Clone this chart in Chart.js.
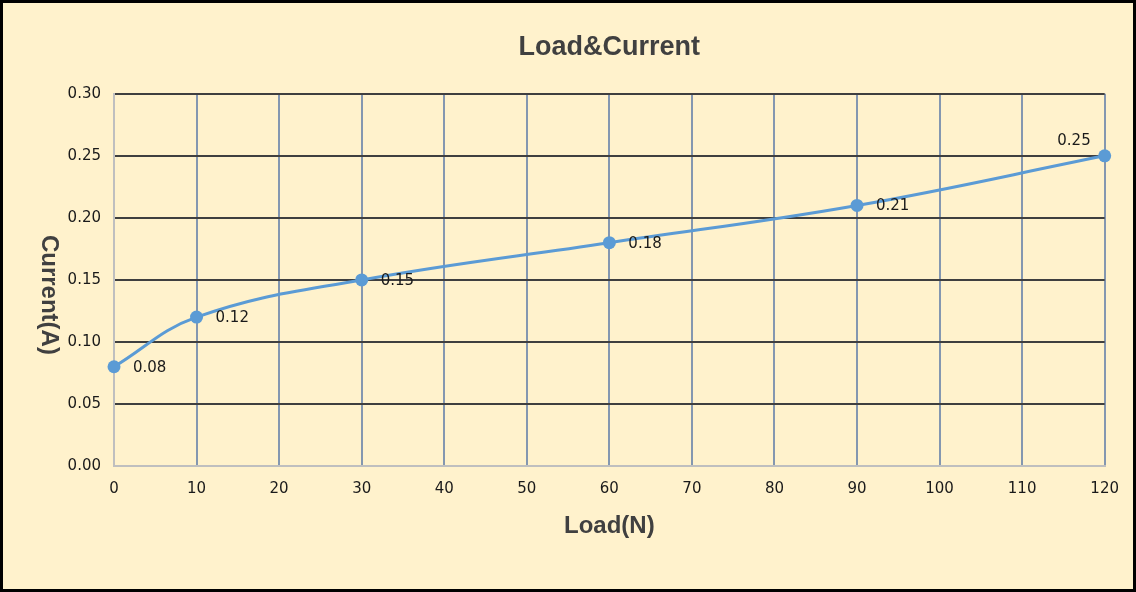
<!DOCTYPE html>
<html>
<head>
<meta charset="utf-8">
<script src="https://cdn.jsdelivr.net/npm/chart.js@4.4.1/dist/chart.umd.min.js"></script>
<style>
  body { margin: 0; background: #fff; }
  .frame {
    width: 1136px; height: 592px; box-sizing: border-box;
    border: 3px solid #000; background: #FFF2CC;
  }
  canvas { display: block; }
</style>
</head>
<body>
<div class="frame"><canvas id="chart" width="1130" height="586"></canvas></div>
<script>
  // data
  var loads = [0, 10, 30, 60, 90, 120];
  var currents = [0.08, 0.12, 0.15, 0.18, 0.21, 0.25];
  var chartTitle = "Load&Current";
  var xTitle = "Load(N)";
  var yTitle = "Current(A)";

  var tickFont = { family: "DejaVu Sans", size: 15 };
  var titleFont = { family: "Liberation Sans", size: 27, weight: "bold" };
  var axisFont = { family: "Liberation Sans", size: 24, weight: "bold" };

  // labels next to each point
  var pointLabels = {
    id: "pointLabels",
    afterDatasetsDraw: function (chart) {
      var ctx = chart.ctx;
      var meta = chart.getDatasetMeta(0);
      ctx.save();
      ctx.font = "15px 'DejaVu Sans'";
      ctx.fillStyle = "#1a1a1a";
      ctx.textBaseline = "middle";
      meta.data.forEach(function (pt, i) {
        var txt = currents[i].toFixed(2);
        if (i === meta.data.length - 1) {
          ctx.textAlign = "right";
          ctx.fillText(txt, pt.x - 14, pt.y - 15);
        } else {
          ctx.textAlign = "left";
          ctx.fillText(txt, pt.x + 19, pt.y + 1);
        }
      });
      ctx.restore();
    }
  };

  // vertical title, reads top to bottom
  var sideTitle = {
    id: "sideTitle",
    afterDraw: function (chart) {
      var ctx = chart.ctx;
      var area = chart.chartArea;
      ctx.save();
      ctx.translate(46, (area.top + area.bottom) / 2 + 15);
      ctx.rotate(Math.PI / 2);
      ctx.font = "bold 24px 'Liberation Sans'";
      ctx.fillStyle = "#404040";
      ctx.textAlign = "center";
      ctx.textBaseline = "middle";
      ctx.fillText(yTitle, 0, 0);
      ctx.restore();
    }
  };

  var ctx1 = document.getElementById("chart").getContext("2d");
  var myChart = new Chart(ctx1, {
    type: "line",
    data: {
      datasets: [
        {
          data: loads.map(function (x, i) { return { x: x, y: currents[i] }; }),
          borderColor: "#5B9BD5",
          backgroundColor: "#5B9BD5",
          borderWidth: 3,
          pointRadius: 6.5,
          pointBorderWidth: 0,
          tension: 0.4,
          clip: false,
        },
      ],
    },
    options: {
      responsive: false,
      animation: false,
      devicePixelRatio: 1,
      layout: { padding: { left: 0, right: 26, top: 0, bottom: 0 } },
      plugins: {
        legend: { display: false },
        tooltip: { enabled: false },
        title: {
          display: true,
          text: chartTitle,
          fullSize: false,
          color: "#404040",
          font: titleFont,
          padding: { top: 28, bottom: 30.4 },
        },
      },
      scales: {
        x: {
          type: "linear",
          min: 0,
          max: 120,
          ticks: { stepSize: 10, padding: 14, color: "#1a1a1a", font: tickFont, maxRotation: 0 },
          grid: {
            drawTicks: false,
            lineWidth: 2,
            color: function (c) { return c.tick && c.tick.value === 0 ? "#BFBFBF" : "#8497B0"; },
          },
          border: { display: true, color: "#BFBFBF", width: 2 },
          title: {
            display: true,
            text: xTitle,
            color: "#404040",
            font: axisFont,
            padding: { top: 0, bottom: 48.6 },
          },
          afterFit: function (scale) { scale.height = 123; },
        },
        y: {
          min: 0,
          max: 0.3,
          ticks: {
            stepSize: 0.05,
            padding: 13,
            color: "#1a1a1a",
            font: tickFont,
            callback: function (v) { return v.toFixed(2); },
          },
          grid: {
            drawTicks: false,
            lineWidth: 2,
            color: function (c) { return c.tick && c.tick.value === 0 ? "#BFBFBF" : "#3F3F3F"; },
          },
          border: { display: true, color: "#BFBFBF", width: 2 },
          afterFit: function (scale) { scale.width = 111; },
        },
      },
    },
    plugins: [pointLabels, sideTitle],
  });
</script>
</body>
</html>
